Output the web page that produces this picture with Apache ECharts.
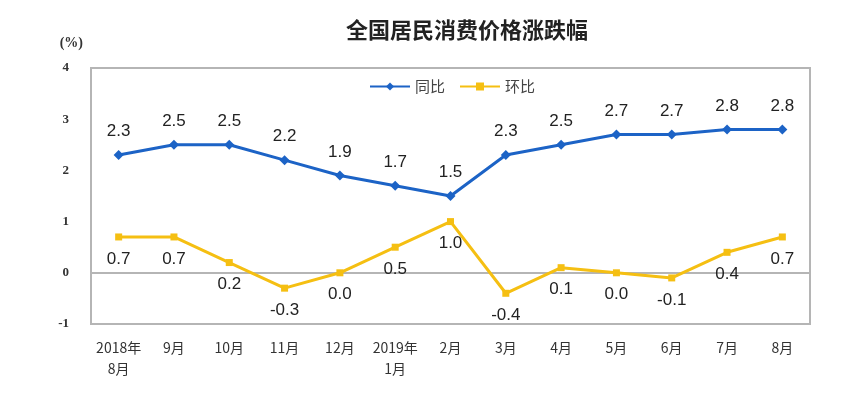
<!DOCTYPE html>
<html><head><meta charset="utf-8">
<script src="https://cdn.jsdelivr.net/npm/echarts@6/dist/echarts.min.js"></script>
<style>html,body{margin:0;padding:0;background:#fff}#c{width:854px;height:395px}</style>
</head><body><div id="c"></div>
<script>
const categories = ['2018年\n8月','9月','10月','11月','12月','2019年\n1月','2月','3月','4月','5月','6月','7月','8月'];
const yoy = [2.3,2.5,2.5,2.2,1.9,1.7,1.5,2.3,2.5,2.7,2.7,2.8,2.8];
const mom = [0.7,0.7,0.2,-0.3,0.0,0.5,1.0,-0.4,0.1,0.0,-0.1,0.4,0.7];
const yTicks = [-1,0,1,2,3,4];

const chart = echarts.init(document.getElementById('c'));
chart.setOption({
  animation:false,
  title:{text:'全国居民消费价格涨跌幅',left:462,top:14,textAlign:'center',
    textStyle:{fontFamily:'Noto Sans CJK SC',fontSize:22,fontWeight:'bold',color:'#222'}},
  legend:{top:74,left:364,itemWidth:40,itemHeight:10,itemGap:14,
    textStyle:{fontFamily:'Noto Sans CJK SC',fontSize:15,color:'#444'},
    data:['同比','环比']},
  grid:{left:91,right:44,top:68,bottom:71,show:true,borderColor:'#b5b5b5',borderWidth:2},
  xAxis:{type:'category',data:categories,boundaryGap:true,
    axisLine:{show:false},axisTick:{show:false},
    axisLabel:{interval:0,hideOverlap:false,fontFamily:'Noto Sans CJK SC',fontSize:14,color:'#333',margin:13,lineHeight:21,verticalAlign:'top'}},
  yAxis:{type:'value',min:-1,max:4,interval:1,name:'(%)',nameLocation:'end',nameGap:18,
    nameTextStyle:{fontFamily:'Liberation Serif',fontSize:14,fontWeight:'bold',color:'#333',align:'right',padding:[0,8,0,0]},
    splitLine:{show:false},axisLine:{show:false},axisTick:{show:false},
    axisLabel:{fontFamily:'Liberation Serif',fontSize:13,fontWeight:'bold',color:'#333',margin:22,
      formatter:v=>yTicks.includes(v)?String(v):''}},
  series:[
    {name:'同比',type:'line',data:yoy,color:'#1C63C6',symbol:'diamond',symbolSize:10,z:3,
      lineStyle:{width:3,color:'#1C63C6'},itemStyle:{color:'#1C63C6'},
      label:{show:true,position:'top',distance:10,formatter:p=>p.value.toFixed(1),
        fontFamily:'Liberation Sans',fontSize:17,color:'#222'},
      markLine:{silent:true,z:0,symbol:'none',label:{show:false},lineStyle:{color:'#b5b5b5',type:'solid',width:2},data:[{yAxis:0}]}},
    {name:'环比',type:'line',data:mom,color:'#F5BF12',symbol:'rect',symbolSize:7,z:3,
      lineStyle:{width:3,color:'#F5BF12'},itemStyle:{color:'#F5BF12'},
      label:{show:true,position:'bottom',distance:10,formatter:p=>p.value.toFixed(1),
        fontFamily:'Liberation Sans',fontSize:17,color:'#222'}}
  ]
});
</script></body></html>
